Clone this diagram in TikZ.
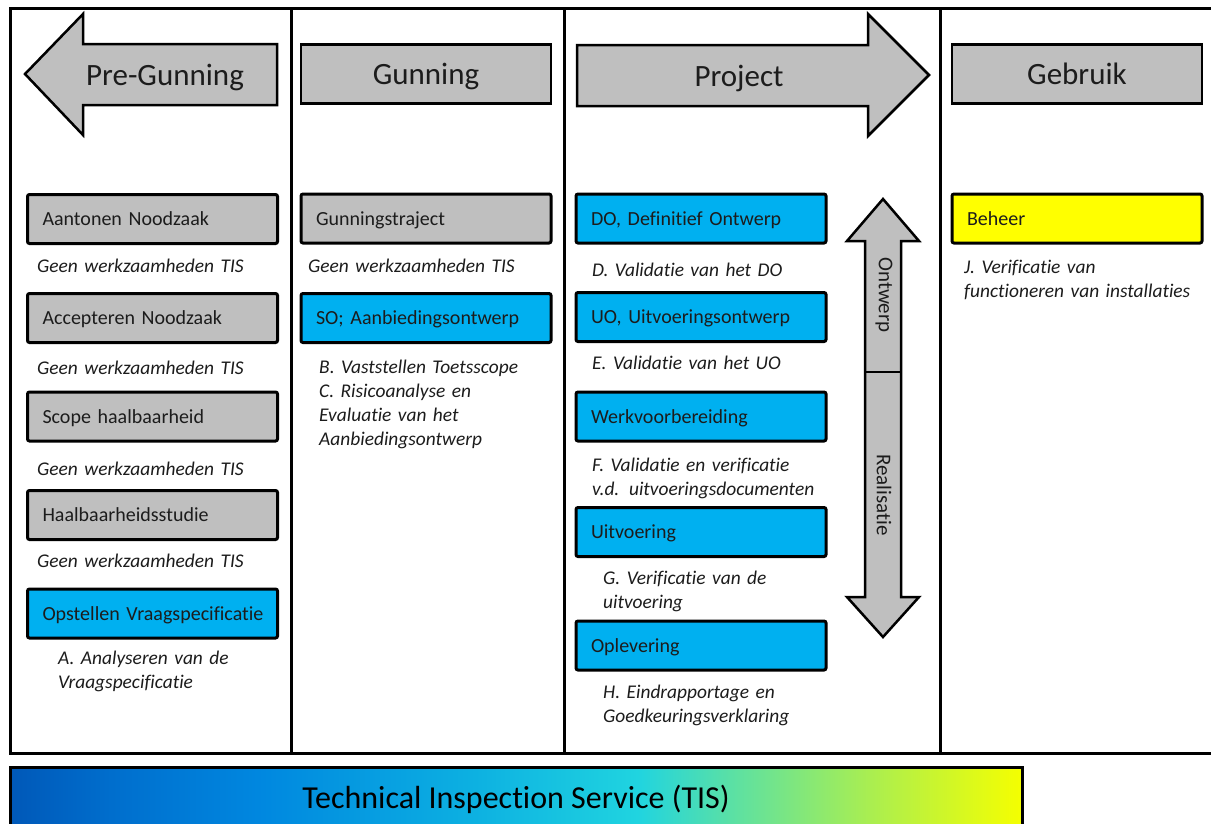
\documentclass[tikz,border=0pt]{standalone}
\usepackage{fontspec}
\setmainfont{Carlito}[Ligatures=NoCommon]
\definecolor{boxgray}{RGB}{191,191,191}
\definecolor{boxblue}{RGB}{0,176,240}
\definecolor{boxyellow}{RGB}{255,255,0}
\definecolor{txt}{RGB}{28,28,28}
\definecolor{gA}{RGB}{0,88,184}
\definecolor{gB}{RGB}{0,110,205}
\definecolor{gC}{RGB}{0,136,224}
\definecolor{gD}{RGB}{12,175,225}
\definecolor{gE}{RGB}{32,212,224}
\definecolor{gF}{RGB}{95,225,160}
\definecolor{gG}{RGB}{170,238,80}
\definecolor{gH}{RGB}{245,255,0}
\pgfdeclarehorizontalshading{tisgrad}{100bp}{color(0bp)=(gA); color(25bp)=(gA); color(30bp)=(gB); color(37.5bp)=(gC); color(47.5bp)=(gD); color(56bp)=(gE); color(61bp)=(gF); color(67.5bp)=(gG); color(75bp)=(gH); color(100bp)=(gH)}
\begin{document}
\begin{tikzpicture}[x=1pt,y=-1pt,
  every node/.style={text=txt},
  hdr/.style={font=\fontsize{31}{36}\selectfont},
  phase/.style={draw=black, line width=2.5pt, fill=boxgray, line join=miter},
  phasebox/.style={phase, minimum width=250pt, minimum height=59pt, inner sep=0pt, text height=23pt, text depth=3pt, hdr},
  stage/.style={draw=black, line width=3pt, rounded corners=2pt, minimum width=250pt, minimum height=49pt, text width=220pt, inner xsep=15pt, text height=16pt, text depth=3pt, align=left, font=\fontsize{20}{23}\selectfont},
  gstage/.style={stage, fill=boxgray},
  bstage/.style={stage, fill=boxblue},
  ystage/.style={stage, fill=boxyellow},
  note/.style={anchor=base west, inner sep=0pt, text width=260pt, align=left, font=\fontsize{19.4}{24}\selectfont\itshape},
  frameline/.style={draw=black, line width=3pt},
]
\clip (0,0) rectangle (1211,823);
\fill[white] (0,0) rectangle (1211,823);
% frame
\draw[frameline] (1230,8) -- (10,8) -- (10,753) -- (1230,753);
\draw[frameline] (291,8) -- (291,753);
\draw[frameline] (564,8) -- (564,753);
\draw[frameline] (940,8) -- (940,753);
% phase arrows
\draw[phase] (25,74) -- (83,14) -- (83,44) -- (277,44) -- (277,105) -- (83,105) -- (83,135) -- cycle;
\node[hdr] (preg) at (165,77) {Pre-Gunning};
\node[phasebox] (gun) at (426,74) {Gunning};
\draw[phase] (577,45) -- (868,45) -- (868,14) -- (929,75) -- (868,136) -- (868,106) -- (577,106) -- cycle;
\node[hdr] (proj) at (739,78) {Project};
\node[phasebox] (gebr) at (1077,74) {Gebruik};
% column 1
\node[gstage] (s1) at (152.5,219) {Aantonen Noodzaak};
\node[note] (n1) at (37,272) {Geen werkzaamheden TIS};
\node[gstage] (s2) at (152.5,318) {Accepteren Noodzaak};
\node[note] (n2) at (37,374) {Geen werkzaamheden TIS};
\node[gstage] (s3) at (152.5,416.5) {Scope haalbaarheid};
\node[note] (n3) at (37,475) {Geen werkzaamheden TIS};
\node[gstage] (s4) at (152.5,515) {Haalbaarheidsstudie};
\node[note] (n4) at (37,567) {Geen werkzaamheden TIS};
\node[bstage] (s5) at (152.5,613.5) {\mbox{Opstellen Vraagspecificatie}};
\node[note] (n5) at (58,664) {A. Analyseren van de\\Vraagspecificatie};
% column 2
\node[gstage] (g1) at (426,218.5) {Gunningstraject};
\node[note] (gn1) at (308,272) {Geen werkzaamheden TIS};
\node[bstage] (g2) at (426,318) {SO; Aanbiedingsontwerp};
\node[note] (gn2) at (319,373) {B. Vaststellen Toetsscope\\C. Risicoanalyse en\\Evaluatie van het\\Aanbiedingsontwerp};
% column 3
\node[bstage] (p1) at (701,218.5) {DO, Definitief Ontwerp};
\node[note] (pn1) at (592,276) {D. Validatie van het DO};
\node[bstage] (p2) at (701,317) {UO, Uitvoeringsontwerp};
\node[note] (pn2) at (592,369) {E. Validatie van het UO};
\node[bstage] (p3) at (701,416.5) {Werkvoorbereiding};
\node[note] (pn3) at (592,471) {F. Validatie en verificatie\\v.d. uitvoeringsdocumenten};
\node[bstage] (p4) at (701,532) {Uitvoering};
\node[note] (pn4) at (603,584) {G. Verificatie van de\\uitvoering};
\node[bstage] (p5) at (701,645.5) {Oplevering};
\node[note] (pn5) at (603,698) {H. Eindrapportage en\\Goedkeuringsverklaring};
% vertical double arrow
\draw[phase] (883,199) -- (919,241) -- (901,241) -- (901,597) -- (919,597) -- (883,637) -- (847,597) -- (865,597) -- (865,241) -- (847,241) -- cycle;
\draw[line width=2.5pt] (865,372) -- (901,372);
\node[rotate=-90, font=\fontsize{21}{24}\selectfont] (ontw) at (884,295) {Ontwerp};
\node[rotate=-90, font=\fontsize{21}{24}\selectfont] (real) at (884,495) {Realisatie};
% column 4
\node[ystage] (b1) at (1077,218.5) {Beheer};
\node[note] (bn1) at (964,273) {J. Verificatie van\\functioneren van installaties};
% TIS bar
\shadedraw[shading=tisgrad, draw=black, line width=3pt] (10,767) rectangle (1022,850);
\node[font=\fontsize{32}{36}\selectfont, text=black] (tis) at (516,799) {Technical Inspection Service (TIS)};
\end{tikzpicture}
\end{document}
